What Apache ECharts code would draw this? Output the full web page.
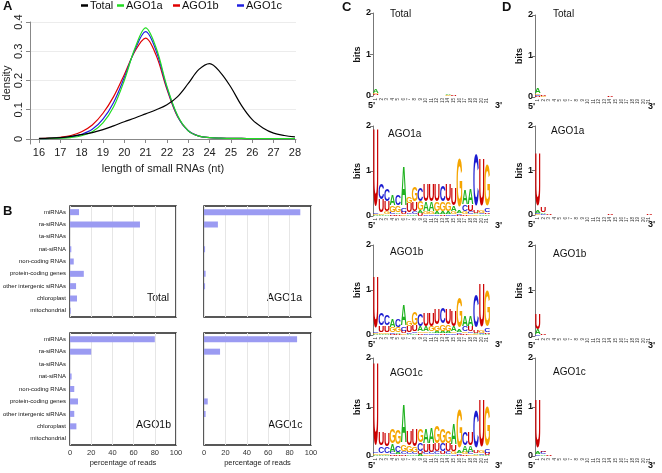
<!DOCTYPE html>
<html>
<head>
<meta charset="utf-8">
<script src="https://cdn.jsdelivr.net/npm/echarts@6/dist/echarts.min.js"></script>
<style>
html, body { margin: 0; padding: 0; background: #fff; }
#chart { width: 662px; height: 473px; }
</style>
</head>
<body>
<div id="chart"></div>
<script>
// ---- panel A: length density ----
const lengths = [16, 16.5, 17, 17.5, 18, 18.5, 19, 19.5, 20, 20.5, 21, 21.5, 22, 22.5, 23, 23.5, 24, 24.5, 25, 25.5, 26, 26.5, 27, 27.5, 28];
const densTotal = [0.002, 0.003, 0.005, 0.009, 0.015, 0.022, 0.032, 0.045, 0.059, 0.072, 0.086, 0.1, 0.117, 0.145, 0.19, 0.238, 0.258, 0.228, 0.177, 0.114, 0.066, 0.038, 0.02, 0.012, 0.007];
const densAGO1a = [0.001, 0.002, 0.003, 0.005, 0.011, 0.025, 0.055, 0.11, 0.2, 0.31, 0.38, 0.31, 0.18, 0.08, 0.028, 0.01, 0.005, 0.003, 0.002, 0.002, 0.001, 0.001, 0.001, 0.001, 0.001];
const densAGO1b = [0.001, 0.003, 0.006, 0.012, 0.025, 0.048, 0.088, 0.145, 0.22, 0.3, 0.345, 0.285, 0.17, 0.076, 0.028, 0.01, 0.005, 0.003, 0.002, 0.002, 0.001, 0.001, 0.001, 0.001, 0.001];
const densAGO1c = [0.001, 0.002, 0.004, 0.007, 0.016, 0.033, 0.068, 0.125, 0.21, 0.305, 0.367, 0.3, 0.175, 0.078, 0.028, 0.01, 0.005, 0.003, 0.002, 0.002, 0.001, 0.001, 0.001, 0.001, 0.001];
const lengthTicks = [16, 17, 18, 19, 20, 21, 22, 23, 24, 25, 26, 27, 28];
const densTicks = [0, 0.1, 0.2, 0.3, 0.4];

// ---- panel B: read classes ----
const categories = ['miRNAs', 'ra-siRNAs', 'ta-siRNAs', 'nat-siRNA', 'non-coding RNAs', 'protein-coding genes', 'other intergenic siRNAs', 'chloroplast', 'mitochondrial'];
const pctTotal = [8.5, 66, 0, 1.2, 3.5, 13, 5.7, 6.6, 0.7];
const pctAGO1a = [90, 13, 0, 1, 0, 1.5, 1, 0, 0];
const pctAGO1b = [80, 20, 0, 1.5, 4, 7.5, 4, 6, 0];
const pctAGO1c = [87, 15, 0, 0, 0, 3.5, 1.5, 0, 0];

// ---- panels C/D: sequence logos, each column bottom -> top "letter+bits" ----
const positions = ['1', '2', '3', '4', '5', '6', '7', '8', '9', '10', '11', '12', '13', '14', '15', '16', '17', '18', '19', '20', '21'];
const logoC_Total = ['C.01 U.03 G.03 A.08', '', '', '', '', '', '', '', '', '', '', '', '', 'G.015 A.015', 'U.02', '', '', '', '', '', ''];
const logoC_AGO1a = [
  'A.02 G.02 C.03 U1.75', 'A.02 G.03 U.3 C.35', 'A.03 G.05 U.22 C.26', 'U.03 C.05 G.15 A.24', 'U.03 A.04 G.15 C.24',
  'G.03 U.05 C.08 A.88', 'A.04 C.04 U.2 G.14', 'A.04 C.05 U.2 G.33', 'U.05 A.06 G.2 C.3', 'C.04 G.06 A.2 U.38',
  'C.04 G.06 A.2 U.38', 'C.04 A.06 G.2 U.38', 'U.04 A.06 G.2 C.36', 'C.04 A.06 G.2 U.38', 'C.04 G.05 A.12 U.38',
  'U.03 C.03 A.06 G1.1', 'U.04 G.05 C.14 A.32', 'G.04 C.05 U.14 A.34', 'G.03 A.04 U.06 C1.15', 'A.03 C.04 G.06 U1.05',
  'A.03 U.04 C.08 G.92'];
const logoC_AGO1b = [
  'A.02 G.02 C.03 U1.15', 'A.02 G.03 U.15 C.27', 'A.02 G.04 U.14 C.22', 'U.02 C.04 G.1 A.18', 'U.02 A.03 G.1 C.18',
  'G.03 U.06 C.08 A.48', 'A.03 C.03 U.13 G.1', 'A.03 C.04 U.13 G.3', 'U.03 G.04 A.1 C.26', 'C.03 G.04 A.1 U.28',
  'C.03 A.04 G.1 U.28', 'C.03 A.05 G.12 U.35', 'U.03 A.05 G.14 C.36', 'C.03 A.05 G.14 U.34', 'C.03 G.04 A.1 U.34',
  'U.02 C.03 A.06 G.68', 'U.03 G.04 C.1 A.22', 'G.03 C.04 U.1 A.24', 'G.02 A.03 U.05 C.74', 'A.02 C.03 G.05 U.96',
  'A.02 U.03 C.08 G.78'];
const logoC_AGO1c = [
  'A.02 G.03 C.03 U1.72', 'A.02 G.03 C.14 U.26', 'A.02 G.03 C.12 U.26', 'U.03 C.04 A.16 G.3', 'U.03 A.04 C.14 G.3',
  'U.03 C.05 G.12 A.78', 'A.03 C.04 G.12 U.3', 'A.03 C.04 G.1 U.34', 'A.04 U.05 C.16 G.28', 'G.03 C.04 U.16 A.3',
  'G.03 C.04 U.16 A.32', 'A.03 C.05 U.16 G.34', 'A.03 U.05 C.16 G.3', 'A.03 C.05 U.16 G.24', 'C.03 G.05 U.12 A.42',
  'U.02 C.03 A.06 G.78', 'U.03 G.04 A.12 C.26', 'G.03 C.04 A.12 U.28', 'G.02 A.03 U.06 C.76', 'A.02 C.03 G.05 U.98',
  'A.02 U.04 C.08 G.8'];
const logoD_Total = ['U.02 C.03 G.04 A.12', 'G.02 U.02', 'U.01', '', '', '', '', '', '', '', '', '', '', 'U.015', '', 'A.01', '', '', '', '', ''];
const logoD_AGO1a = ['G.02 C.03 A.05 U1.2', 'C.02 A.04 U.12', 'U.02', '', '', '', '', '', '', '', 'U.01', '', '', 'U.015', '', '', '', '', '', '', 'U.015'];
const logoD_AGO1b = ['C.03 A.1 U.35', 'A.01 U.02', 'U.01', '', '', '', '', '', '', '', '', '', '', '', '', '', '', '', '', '', ''];
const logoD_AGO1c = ['C.03 A.06 U1.0', 'A.03 C.05 U.03', 'U.015', '', '', '', '', '', '', '', '', '', '', '', '', '', '', '', '', '', ''];

const letterColors = {A: '#1fb21f', C: '#1c1cd0', G: '#f5a500', U: '#cc0000'};
const FS = 20;

function parseColumn(s) {
  if (!s) return [];
  return s.split(' ').map(t => [t[0], parseFloat(t.slice(1))]);
}

function logoRenderer(cols) {
  return function (params, api) {
    const i = api.value(0);
    const base = api.coord([i, 0]);
    const bw = api.size([1, 0])[0];
    const children = [];
    let y = base[1];
    parseColumn(cols[i]).forEach(([letter, h]) => {
      const hp = api.size([0, h])[1];
      children.push({
        type: 'text',
        x: base[0],
        y: y,
        scaleX: bw * 0.98 / (0.66 * FS),
        scaleY: hp / (0.716 * FS),
        style: {
          text: letter, x: 0, y: 0.1535 * FS,
          fontSize: FS, fontWeight: 'bold', fontFamily: 'Liberation Sans',
          fill: letterColors[letter], align: 'center', verticalAlign: 'bottom'
        }
      });
      y -= hp;
    });
    return {type: 'group', children};
  };
}

const chart = echarts.init(document.getElementById('chart'));

const grid = [
  {left: 30, top: 22, width: 266, height: 122},
  {left: 69, top: 206, width: 107, height: 111},
  {left: 204, top: 206, width: 107, height: 111},
  {left: 69, top: 333, width: 107, height: 112},
  {left: 204, top: 333, width: 107, height: 112}
];
[1, 2, 3, 4].forEach(k => Object.assign(grid[k], {show: true, borderColor: '#222', borderWidth: 1.5, backgroundColor: 'transparent'}));

const logos = [
  {data: logoC_Total, left: 373, top: 13, h: 83, title: 'Total', tx: 390, ty: 15, p5: 368, p3: 495},
  {data: logoC_AGO1a, left: 373, top: 126, h: 90, title: 'AGO1a', tx: 388, ty: 135, p5: 368, p3: 495},
  {data: logoC_AGO1b, left: 373, top: 245, h: 90, title: 'AGO1b', tx: 390, ty: 253, p5: 368, p3: 495},
  {data: logoC_AGO1c, left: 373, top: 358, h: 98, title: 'AGO1c', tx: 390, ty: 374, p5: 368, p3: 495},
  {data: logoD_Total, left: 535, top: 15, h: 82, title: 'Total', tx: 553, ty: 15, p5: 528, p3: 648},
  {data: logoD_AGO1a, left: 535, top: 126, h: 89, title: 'AGO1a', tx: 551, ty: 132, p5: 528, p3: 648},
  {data: logoD_AGO1b, left: 535, top: 245, h: 91, title: 'AGO1b', tx: 553, ty: 255, p5: 528, p3: 648},
  {data: logoD_AGO1c, left: 535, top: 358, h: 98, title: 'AGO1c', tx: 553, ty: 373, p5: 528, p3: 648}
];
logos.forEach(l => grid.push({left: l.left, top: l.top, width: 117, height: l.h}));

const xAxis = [{
  gridIndex: 0, type: 'value', min: 15.58, max: 28.05,
  name: 'length of small RNAs (nt)', nameLocation: 'middle', nameGap: 19,
  nameTextStyle: {fontSize: 11, color: '#222', fontFamily: 'Liberation Sans'},
  axisLine: {lineStyle: {color: '#888'}},
  axisTick: {customValues: lengthTicks, length: 4, lineStyle: {color: '#888'}},
  axisLabel: {customValues: lengthTicks, fontSize: 11, color: '#222', margin: 3, fontFamily: 'Liberation Sans'},
  splitLine: {show: false}
}];
const yAxis = [{
  gridIndex: 0, type: 'value', min: -0.0171, max: 0.4,
  name: 'density', nameLocation: 'middle', nameGap: 18,
  nameTextStyle: {fontSize: 11, color: '#222', fontFamily: 'Liberation Sans'},
  axisLine: {show: true, lineStyle: {color: '#888'}},
  axisTick: {show: true, customValues: densTicks, length: 4, lineStyle: {color: '#888'}},
  axisLabel: {customValues: densTicks, rotate: 90, fontSize: 11, color: '#222', margin: 6, fontFamily: 'Liberation Sans'},
  splitLine: {show: true, lineStyle: {color: '#ececec'}}
}];

[1, 2, 3, 4].forEach(k => {
  const bottomRow = k >= 3;
  const leftCol = k % 2 === 1;
  xAxis.push({
    gridIndex: k, type: 'value', min: 0, max: 100, interval: 20,
    name: bottomRow ? 'percentage of reads' : '', nameLocation: 'middle', nameGap: 14,
    nameTextStyle: {fontSize: 7.5, color: '#222', fontFamily: 'Liberation Sans'},
    axisLine: {show: false}, axisTick: {show: false},
    axisLabel: {show: bottomRow, fontSize: 7.5, color: '#333', margin: 4, fontFamily: 'Liberation Sans'},
    splitLine: {lineStyle: {color: '#e6e6e6'}}
  });
  yAxis.push({
    gridIndex: k, type: 'category', data: categories, inverse: true,
    axisLine: {show: false}, axisTick: {show: false},
    axisLabel: {show: leftCol, fontSize: 6, color: '#111', margin: 4, fontFamily: 'Liberation Sans'}
  });
});

logos.forEach((l, j) => {
  const gi = 5 + j;
  xAxis.push({
    gridIndex: gi, type: 'category', data: positions,
    axisLine: {show: false}, axisTick: {show: false},
    axisLabel: {interval: 0, rotate: 90, fontSize: 4.5, color: '#333', margin: 2, fontFamily: 'Liberation Sans'}
  });
  yAxis.push({
    gridIndex: gi, type: 'value', min: 0, max: 2, interval: 1,
    name: 'bits', nameLocation: 'middle', nameGap: 11,
    nameTextStyle: {fontSize: 9, fontWeight: 'bold', color: '#111', fontFamily: 'Liberation Sans'},
    axisLine: {show: true, lineStyle: {color: '#777'}},
    axisTick: {show: true, length: 3, lineStyle: {color: '#777'}},
    axisLabel: {fontSize: 9, fontWeight: 'bold', color: '#111', margin: 2, fontFamily: 'Liberation Sans'},
    splitLine: {show: false}
  });
});

const lineSeries = [
  ['AGO1b', densAGO1b, '#e00000'],
  ['AGO1c', densAGO1c, '#2020e0'],
  ['AGO1a', densAGO1a, '#22dd22'],
  ['Total', densTotal, '#000000']
].map(([name, vals, color]) => ({
  name, type: 'line', xAxisIndex: 0, yAxisIndex: 0,
  data: lengths.map((x, i) => [x, vals[i]]),
  smooth: 0.35, showSymbol: false, clip: true,
  itemStyle: {color}, lineStyle: {color, width: 1.2}
}));

const barSeries = [pctTotal, pctAGO1a, pctAGO1b, pctAGO1c].map((vals, i) => ({
  type: 'bar', xAxisIndex: i + 1, yAxisIndex: i + 1, data: vals,
  barWidth: 6, itemStyle: {color: '#9b9bf2'}
}));

const logoSeries = logos.map((l, j) => ({
  type: 'custom', xAxisIndex: 5 + j, yAxisIndex: 5 + j,
  data: positions.map((p, i) => [i, 0]),
  renderItem: logoRenderer(l.data), clip: false
}));

const legendPos = [['Total', 76], ['AGO1a', 112], ['AGO1b', 168], ['AGO1c', 232]];
const legend = legendPos.map(([name, left]) => ({
  data: [name], left, top: -5, icon: 'rect', itemWidth: 7, itemHeight: 2.5, itemGap: 0,
  textStyle: {fontSize: 11, color: '#111', fontFamily: 'Liberation Sans', padding: [0, 0, 0, -3]},
  selectedMode: false
}));

const txt = (text, left, top, font, extra) => Object.assign({
  type: 'text', left, top, style: Object.assign({text, fill: '#111', fontFamily: 'Liberation Sans'}, font)
}, extra || {});

const graphic = [
  txt('A', 3, 0, {fontSize: 13, fontWeight: 'bold'}),
  txt('B', 3, 205, {fontSize: 13, fontWeight: 'bold'}),
  txt('C', 342, 1, {fontSize: 13, fontWeight: 'bold'}),
  txt('D', 502, 1, {fontSize: 13, fontWeight: 'bold'}),
  txt('Total', 147, 293, {fontSize: 10.5}),
  txt('AGO1a', 267, 293, {fontSize: 10.5}),
  txt('AGO1b', 136, 420, {fontSize: 10.5}),
  txt('AGO1c', 268, 420, {fontSize: 10.5})
];
logos.forEach(l => {
  const y0 = l.top + l.h;
  graphic.push(txt(l.title, l.tx, l.ty - 6, {fontSize: 10}));
  graphic.push(txt("5'", l.p5, y0 + 5, {fontSize: 9, fontWeight: 'bold'}));
  graphic.push(txt("3'", l.p3, y0 + 5, {fontSize: 9, fontWeight: 'bold'}));
});

chart.setOption({
  animation: false,
  backgroundColor: '#fff',
  grid, xAxis, yAxis, legend, graphic,
  series: [...lineSeries, ...barSeries, ...logoSeries]
});
</script>
</body>
</html>
